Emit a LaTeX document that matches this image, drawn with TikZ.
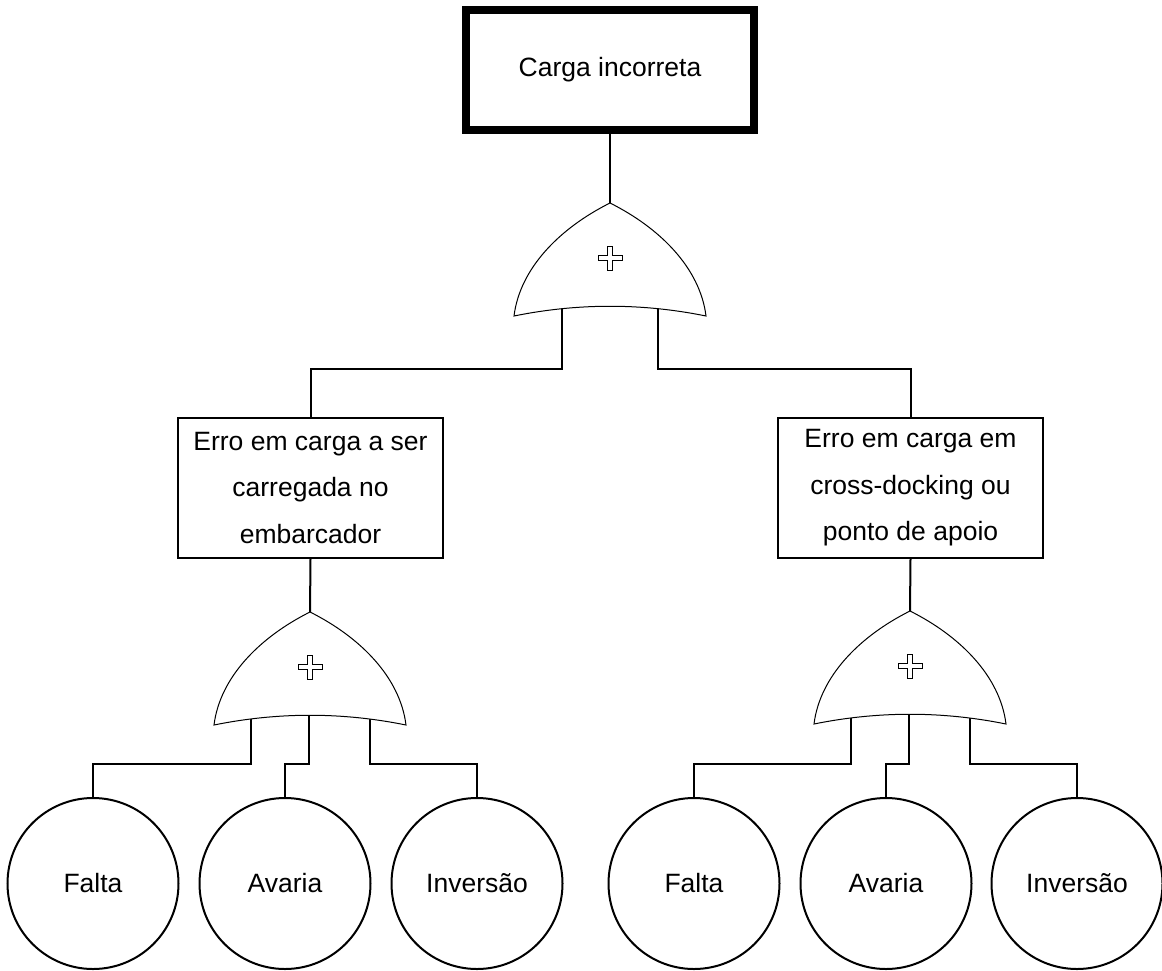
\documentclass[tikz,border=0pt]{standalone}
\usepackage{fontspec}
\setmainfont{Liberation Sans}
\usetikzlibrary{backgrounds}
\begin{document}
\begin{tikzpicture}[x=1pt,y=-1pt,
  every node/.style={font=\fontsize{26.5}{46.5}\selectfont},
  wire/.style={line width=2pt},
  topevent/.style={draw, line width=7.5pt, minimum width=288pt, minimum height=120pt, inner sep=0pt},
  midevent/.style={draw, line width=2pt, minimum width=265pt, minimum height=140pt, inner sep=0pt, align=center},
  basic/.style={draw, circle, line width=2pt, minimum size=171pt, inner sep=0pt},
  orgate/.pic={
    % curved OR-gate body
    \path[draw=black, line width=1pt, fill=white]
      (0,0) .. controls (-50,25) and (-90,65) .. (-96,113)
            .. controls (-32,100) and (32,100) .. (96,113)
            .. controls (90,65) and (50,25) .. (0,0) -- cycle;
    % hollow plus sign
    \begin{scope}[shift={(0,55)}]
      \draw[line width=0.8pt, fill=white]
        (-2.6,-12) -- (2.6,-12) -- (2.6,-2.6) -- (12,-2.6) -- (12,2.6) -- (2.6,2.6)
        -- (2.6,12) -- (-2.6,12) -- (-2.6,2.6) -- (-12,2.6) -- (-12,-2.6) -- (-2.6,-2.6) -- cycle;
    \end{scope}
    \coordinate (-top) at (0,0);
    \coordinate (-a) at (-48,100);
    \coordinate (-b) at (48,100);
    \coordinate (-l) at (-59,100);
    \coordinate (-m) at (-1,100);
    \coordinate (-r) at (60,100);
  }
]
\useasboundingbox (0,0) rectangle (1162,970);

% events
\node[topevent] (top) at (610,70) {Carga incorreta};
\node[midevent] (e1) at (310.5,488) {Erro em carga a ser\\carregada no\\embarcador};
\node[midevent] (e2) at (910.5,488) {Erro em carga em\\cross-docking ou\\ponto de apoio};

% basic events
\node[basic] (f1) at (93,883.5) {Falta};
\node[basic] (a1) at (285,883.5) {Avaria};
\node[basic] (i1) at (477,883.5) {Inversão};
\node[basic] (f2) at (694,883.5) {Falta};
\node[basic] (a2) at (886,883.5) {Avaria};
\node[basic] (i2) at (1077,883.5) {Inversão};

% gates
\pic (g0) at (610,203) {orgate};
\pic (g1) at (310,612) {orgate};
\pic (g2) at (910,611) {orgate};

% bus levels
\coordinate (busT) at (0,369);
\coordinate (busL) at (0,764);

\begin{pgfonlayer}{background}
  \draw[wire] (top.south) -- (g0-top);
  \draw[wire] (g0-a) -- (g0-a |- busT) -| (e1.north);
  \draw[wire] (g0-b) -- (g0-b |- busT) -| (e2.north);
  \draw[wire] (e1.south) -- (g1-top);
  \draw[wire] (e2.south) -- (g2-top);
  \draw[wire] (g1-l) -- (g1-l |- busL) -| (f1.north);
  \draw[wire] (g1-m) -- (g1-m |- busL) -| (a1.north);
  \draw[wire] (g1-r) -- (g1-r |- busL) -| (i1.north);
  \draw[wire] (g2-l) -- (g2-l |- busL) -| (f2.north);
  \draw[wire] (g2-m) -- (g2-m |- busL) -| (a2.north);
  \draw[wire] (g2-r) -- (g2-r |- busL) -| (i2.north);
\end{pgfonlayer}
\end{tikzpicture}
\end{document}
